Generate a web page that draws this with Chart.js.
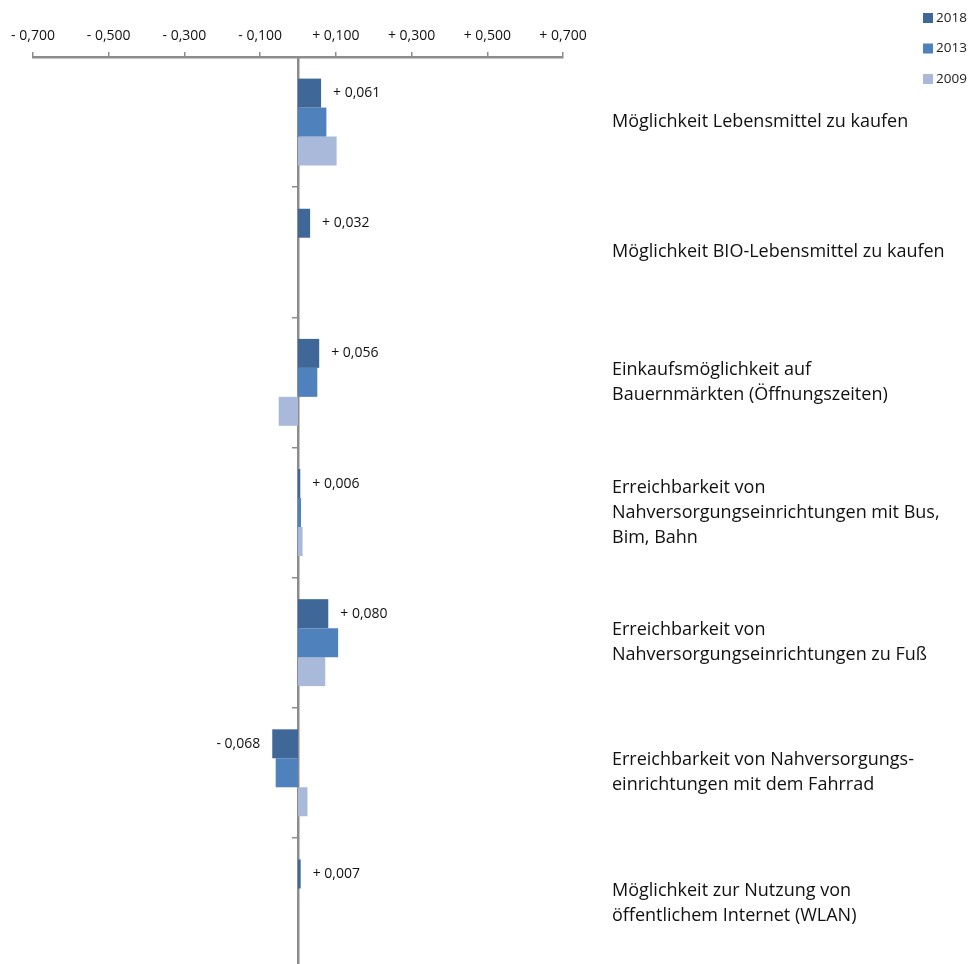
<!DOCTYPE html>
<html>
<head>
<meta charset="utf-8">
<script src="https://cdn.jsdelivr.net/npm/chart.js@4.4.1/dist/chart.umd.min.js"></script>
<style>
  html, body { margin: 0; padding: 0; overflow: hidden; background: #fff; }
  #wrap { width: 974px; height: 968px; }
</style>
</head>
<body>
<div id="wrap"><canvas id="chart"></canvas></div>
<script>
// categories (one array entry per text line)
const categories = [
    ['Möglichkeit Lebensmittel zu kaufen'],
    ['Möglichkeit BIO-Lebensmittel zu kaufen'],
    ['Einkaufsmöglichkeit auf', 'Bauernmärkten (Öffnungszeiten)'],
    ['Erreichbarkeit von', 'Nahversorgungseinrichtungen mit Bus,', 'Bim, Bahn'],
    ['Erreichbarkeit von', 'Nahversorgungseinrichtungen zu Fuß'],
    ['Erreichbarkeit von Nahversorgungs-', 'einrichtungen mit dem Fahrrad'],
    ['Möglichkeit zur Nutzung von', 'öffentlichem Internet (WLAN)']
];
const seriesNames = ['2018', '2013', '2009'];
const values2018 = [0.061, 0.032, 0.056, 0.006, 0.080, -0.068, 0.007];
const values2013 = [0.075, null, 0.051, 0.008, 0.106, -0.059, null];
const values2009 = [0.102, null, -0.051, 0.012, 0.072, 0.025, null];
const xTicks = [-0.7, -0.5, -0.3, -0.1, 0.1, 0.3, 0.5, 0.7];

const font = '"Open Sans", "Liberation Sans", sans-serif';
const axisGrey = '#8c8c8c';

function fmt(v) {
    return (v < 0 ? '- ' : '+ ') + Math.abs(v).toFixed(3).replace('.', ',');
}

// value labels next to the 2018 bars only
const valueLabels = {
    id: 'valueLabels',
    afterDatasetsDraw(chart) {
        const ctx = chart.ctx;
        const meta = chart.getDatasetMeta(0);
        ctx.save();
        ctx.font = '14px ' + font;
        ctx.fillStyle = '#111';
        ctx.textBaseline = 'middle';
        meta.data.forEach((bar, i) => {
            const v = values2018[i];
            if (v == null) return;
            const neg = v < 0;
            ctx.textAlign = neg ? 'right' : 'left';
            ctx.fillText(fmt(v), bar.x + (neg ? -12 : 12), bar.y);
        });
        ctx.restore();
    }
};

// small legend in the top right corner, stacked vertically
const cornerLegend = {
    id: 'cornerLegend',
    afterDraw(chart) {
        const ctx = chart.ctx;
        ctx.save();
        ctx.font = '13.5px ' + font;
        ctx.textBaseline = 'middle';
        ctx.textAlign = 'left';
        chart.data.datasets.forEach((ds, i) => {
            const y = 18 + i * 30.5;
            ctx.fillStyle = ds.backgroundColor;
            ctx.fillRect(923, y - 5, 10, 10);
            ctx.fillStyle = '#222';
            ctx.fillText(ds.label, 936, y);
        });
        ctx.restore();
    }
};

const ctx = document.getElementById('chart').getContext('2d');
new Chart(ctx, {
    type: 'bar',
    data: {
        labels: categories,
        datasets: [
            { label: seriesNames[0], data: values2018, backgroundColor: '#3f6797' },
            { label: seriesNames[1], data: values2013, backgroundColor: '#4f81bd' },
            { label: seriesNames[2], data: values2009, backgroundColor: '#a8b9d9' }
        ]
    },
    options: {
        indexAxis: 'y',
        responsive: true,
        maintainAspectRatio: false,
        animation: false,
        categoryPercentage: 0.668,
        barPercentage: 1,
        layout: {
            padding: { top: 0, left: 33, right: 0, bottom: 0 }
        },
        scales: {
            x: {
                position: 'top',
                min: -0.7,
                max: 0.7,
                afterBuildTicks(scale) {
                    scale.ticks = xTicks.map(v => ({ value: v }));
                },
                ticks: {
                    callback: v => fmt(v),
                    font: { family: font, size: 14 },
                    color: '#111',
                    padding: 8,
                    maxRotation: 0,
                    autoSkip: false
                },
                grid: { drawOnChartArea: false, drawTicks: true, tickLength: 5, color: axisGrey, lineWidth: 1.5 },
                border: { display: true, color: axisGrey, width: 2.5 },
                afterFit(scale) { scale.height = 57; }
            },
            y: {
                position: { x: 0 },
                offset: true,
                ticks: { display: false },
                grid: { offset: true, drawOnChartArea: false, drawTicks: true, tickLength: 5, color: axisGrey, lineWidth: 1.5 },
                border: { display: true, color: axisGrey, width: 2.5 },
                afterFit(scale) {
                    scale.width = 0;
                    scale.paddingTop = 0;
                    scale.paddingBottom = 0;
                }
            },
            y2: {
                type: 'category',
                position: 'right',
                offset: true,
                grid: { display: false },
                border: { display: false },
                ticks: {
                    color: '#111',
                    font: { family: font, size: 18, lineHeight: 1.39 },
                    padding: 41,
                    autoSkip: false
                },
                afterFit(scale) {
                    scale.width = 411;
                    scale.paddingTop = 0;
                    scale.paddingBottom = 0;
                }
            }
        },
        plugins: {
            legend: { display: false },
            tooltip: { enabled: false }
        }
    },
    plugins: [valueLabels, cornerLegend]
});
</script>
</body>
</html>
